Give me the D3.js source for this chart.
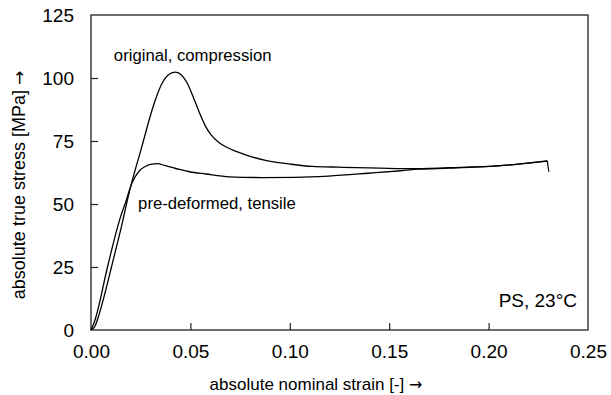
<!DOCTYPE html>
<html><head><meta charset="utf-8">
<script src="https://cdn.jsdelivr.net/npm/d3@7"></script>
<style>
body{margin:0;background:#fff;}
text{font-family:"Liberation Sans",Arial,Helvetica,sans-serif;fill:#000;}
</style></head>
<body><svg id="c" width="611" height="395"></svg>
<script>
// data
const compStrain = [0,0.002,0.004,0.007,0.0103,0.015,0.0195,0.0253,0.0318,0.0355,0.0393,0.0425,0.0455,0.0485,0.0515,0.0545,0.0575,0.0605,0.064,0.068,0.073,0.0778,0.0878,0.0995,0.1112,0.125,0.14,0.16,0.18,0.2045,0.2295,0.2303];
const compStress = [0,1.5,6,14.5,25,40,55.5,72,90,97.5,101.5,102.3,101.2,97.8,92.3,86.3,81.0,77.3,74.6,72.6,70.9,69.5,67.3,65.9,64.9,64.6,64.3,64.0,64.4,65.1,67.1,62.8];
const tensStrain = [0,0.0016,0.0083,0.0103,0.0145,0.0178,0.0195,0.022,0.0245,0.0275,0.0305,0.0335,0.037,0.0412,0.0445,0.0495,0.0578,0.0695,0.0862,0.1028,0.1195,0.1395,0.156,0.1645,0.18,0.2045,0.2295];
const tensStress = [0,3,25,31.5,44,51.6,56,60.5,63.3,65,65.8,66,65.3,64.4,63.7,62.8,61.9,60.8,60.5,60.6,61.1,62.2,63.2,63.8,64.2,65.1,67.0];
const xTicks = [0,0.05,0.10,0.15,0.20,0.25];
const yTicks = [0,25,50,75,100,125];
const xTitle = "absolute nominal strain [-] ";
const yTitle = "absolute true stress [MPa] ";
const arrow = "\u2192";
const labels = [
  {text:"original, compression", sx:0.0115, sy:106.8},
  {text:"pre-deformed, tensile", sx:0.0237, sy:48.0}
];
const note = "PS, 23\u00B0C";

const svg = d3.select("#c");
const L=91, R=588, T=15, B=330;
const x = d3.scaleLinear().domain([0,0.25]).range([L,R]);
const y = d3.scaleLinear().domain([0,125]).range([B,T]);

// frame
svg.append("rect").attr("x",L).attr("y",T).attr("width",R-L).attr("height",B-T)
  .attr("fill","none").attr("stroke","#222").attr("stroke-width",1.3);

// x axis
const xa = svg.append("g").attr("transform",`translate(0,${B})`)
  .call(d3.axisBottom(x).tickValues(xTicks).tickFormat(d3.format(".2f")).tickSizeInner(-7).tickSizeOuter(0).tickPadding(15));
xa.select(".domain").remove();
xa.selectAll("line").attr("stroke","#222").attr("stroke-width",1.2);
xa.selectAll("text").attr("font-size",19).attr("font-family","Liberation Sans, Arial, sans-serif");
xa.selectAll(".tick").filter(d=>d===0||d===0.25).select("line").remove();

// y axis
const ya = svg.append("g").attr("transform",`translate(${L},0)`)
  .call(d3.axisLeft(y).tickValues(yTicks).tickSizeInner(-7).tickSizeOuter(0).tickPadding(17));
ya.select(".domain").remove();
ya.selectAll("line").attr("stroke","#222").attr("stroke-width",1.2);
ya.selectAll("text").attr("font-size",19).attr("font-family","Liberation Sans, Arial, sans-serif");
ya.selectAll(".tick").filter(d=>d===0||d===125).select("line").remove();

// titles
const xt = svg.append("text").attr("x",316).attr("y",390).attr("text-anchor","middle").attr("font-size",17);
xt.append("tspan").text(xTitle);
xt.append("tspan").attr("font-family","DejaVu Sans").attr("font-size",16).text(arrow);
const yt = svg.append("text").attr("transform",`translate(25,${185}) rotate(-90)`).attr("text-anchor","middle").attr("font-size",18);
yt.append("tspan").text(yTitle);
yt.append("tspan").attr("font-family","DejaVu Sans").attr("font-size",17).text(arrow);

// curves
const line = d3.line().x(d=>x(d[0])).y(d=>y(d[1])).curve(d3.curveMonotoneX);
const comp = compStrain.map((s,i)=>[s,compStress[i]]);
const tens = tensStrain.map((s,i)=>[s,tensStress[i]]);
const mainComp = comp.slice(0,comp.length-1);
svg.append("path").attr("d",line(mainComp)).attr("fill","none").attr("stroke","#000").attr("stroke-width",1.3);
svg.append("path").attr("d",d3.line().x(d=>x(d[0])).y(d=>y(d[1]))(comp.slice(comp.length-2))).attr("fill","none").attr("stroke","#000").attr("stroke-width",1.2);
svg.append("path").attr("d",line(tens)).attr("fill","none").attr("stroke","#000").attr("stroke-width",1.3);

// labels
labels.forEach(l=>{
  svg.append("text").attr("x",x(l.sx)).attr("y",y(l.sy)).attr("font-size",16.7).text(l.text);
});
svg.append("text").attr("x",577).attr("y",307).attr("text-anchor","end").attr("font-size",19).text(note);
</script></body></html>
